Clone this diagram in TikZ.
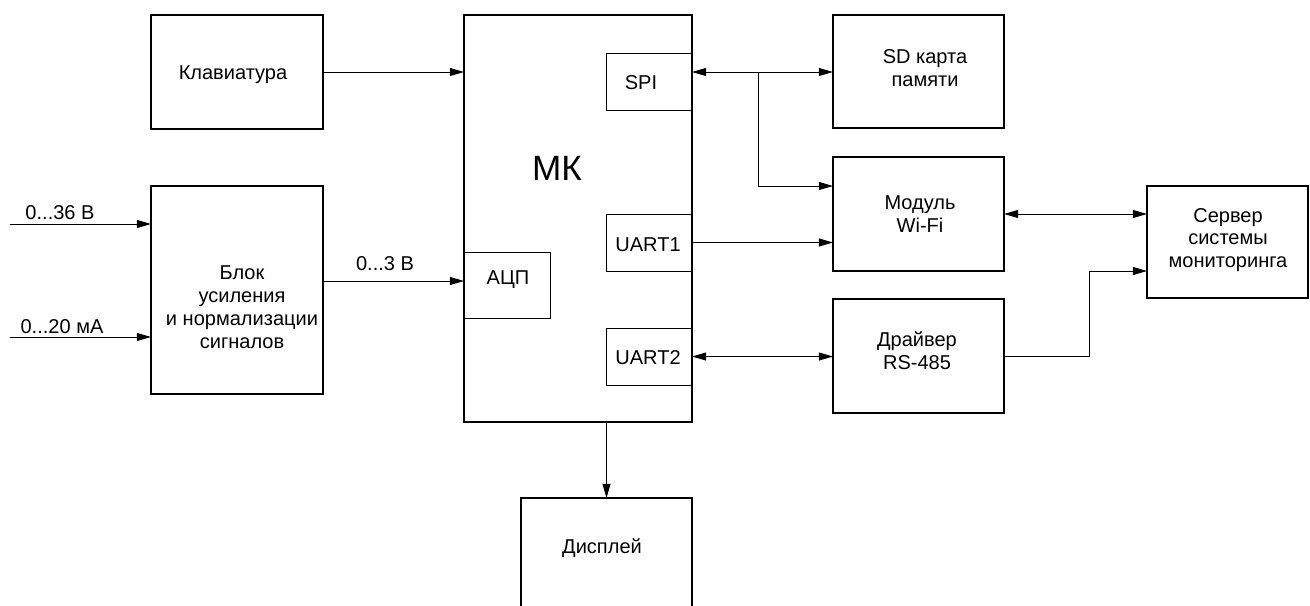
\documentclass[tikz,border=0pt]{standalone}
\usepackage{fontspec}
\setmainfont{Liberation Sans}
\usetikzlibrary{arrows.meta}
\begin{document}
\begin{tikzpicture}[x=0.02cm,y=-0.02cm,
  font=\fontsize{11.4pt}{13pt}\selectfont,
  block/.style 2 args={draw,line width=1.1pt,inner sep=0pt,outer sep=0pt,
    minimum width=#1*0.02cm,minimum height=#2*0.02cm,align=center},
  port/.style 2 args={draw,line width=0.55pt,inner sep=0pt,outer sep=0pt,
    minimum width=#1*0.02cm,minimum height=#2*0.02cm,align=center},
  txt/.style={inner sep=0pt,align=center},
  link/.style={line width=0.55pt,-{Triangle[length=8pt,width=4.5pt]}},
  blink/.style={line width=0.55pt,{Triangle[length=8pt,width=4.5pt]}-{Triangle[length=8pt,width=4.5pt]}},
  wire/.style={line width=0.55pt}]
\useasboundingbox (0,0) rectangle (1310,605);
\clip (0,0) rectangle (1310,605);

% functional blocks
\node[block={172}{114}] (klav) at (237,72) {};
\node[txt] at (233,75) {Клавиатура};
\node[block={172}{208}] (blok) at (237,290) {};
\node[txt] at (242,307) {Блок\\усиления\\и нормализации\\сигналов};
\node[block={228}{407}] (mk) at (578,218.5) {};
\node[txt,font=\fontsize{20pt}{24pt}\selectfont] at (557,168) {МК};
\node[block={171}{113}] (sd) at (918.5,71.5) {};
\node[txt] at (925,68) {SD карта\\памяти};
\node[block={171}{114}] (wifi) at (918.5,214) {};
\node[txt] at (920,214) {Модуль\\Wi-Fi};
\node[block={171}{114}] (drv) at (918.5,356) {};
\node[txt] at (917,351) {Драйвер\\RS-485};
\node[block={161}{112}] (srv) at (1227.5,242) {};
\node[txt] at (1228,240) {Сервер\\системы\\мониторинга};
\node[block={171}{124}] (disp) at (606.5,560) {};
\node[txt] at (602,548) {Дисплей};

% peripheral units inside the microcontroller
\node[port={86}{57}] (spi) at (649,81.5) {};
\node[txt] at (641,83) {SPI};
\node[port={86}{57}] (uart1) at (649,242.5) {};
\node[txt] at (648,245) {UART1};
\node[port={86}{57}] (uart2) at (649,356.5) {};
\node[txt] at (648,358) {UART2};
\node[port={86}{66}] (adc) at (507,285) {};
\node[txt] at (508,280) {АЦП};

% free ends and bends
\coordinate (in1) at (10,224);
\coordinate (in2) at (10,337);
\coordinate (aout) at (323,281);
\coordinate (spibr) at (758,72);
\coordinate (rsbend) at (1089,356);

% connections
\draw[link] (klav.east) -- (klav.east -| mk.west);
\draw[link] (in1) -- (in1 -| blok.west);
\node[txt] at (60,213) {0...36 В};
\draw[link] (in2) -- (in2 -| blok.west);
\node[txt] at (62,327) {0...20 мА};
\draw[link] (aout) -- (aout -| mk.west);
\node[txt] at (385,264) {0...3 В};
\draw[blink] (spibr -| spi.east) -- (spibr -| sd.west);
\draw[link] (spibr) |- (wifi.west |- 0,186);
\draw[link] (uart1.east) -- (uart1.east -| wifi.west);
\draw[blink] (uart2.east) -- (uart2.east -| drv.west);
\draw[blink] (wifi.east) -- (wifi.east -| srv.west);
\draw[link] (drv.east) -- (rsbend) |- (srv.west |- 0,271);
\draw[link] (disp.north |- mk.south) -- (disp.north);
\end{tikzpicture}
\end{document}
